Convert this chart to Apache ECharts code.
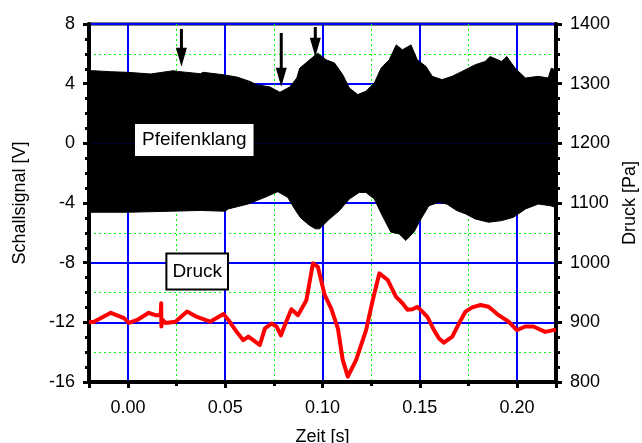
<!DOCTYPE html>
<html>
<head>
<meta charset="utf-8">
<script src="https://cdn.jsdelivr.net/npm/echarts@6/dist/echarts.min.js"></script>
<style>
  html, body { margin: 0; padding: 0; background: #fff; }
  #chart { width: 642px; height: 443px; }
</style>
</head>
<body>
<div id="chart"></div>
<script>
// Schallsignal envelope (time [s], V)
const signalUpper = [
    [-0.02, 4.85], [-0.018, 4.87], [-0.0088, 4.8], [0.0, 4.76], [0.0116, 4.65], [0.0234, 4.87],
    [0.0254, 4.82], [0.0372, 4.67], [0.0387, 4.76], [0.0489, 4.6], [0.0561, 4.44], [0.0627, 4.15],
    [0.0662, 3.93], [0.073, 3.78], [0.0781, 3.42], [0.0832, 3.78], [0.0868, 4.38], [0.0883, 5.04],
    [0.0934, 5.6], [0.0975, 6.04], [0.1019, 5.6], [0.1062, 5.38], [0.1104, 4.6], [0.1138, 3.71],
    [0.1181, 3.27], [0.1223, 3.49], [0.1266, 4.04], [0.1301, 5.04], [0.1343, 5.6], [0.1379, 6.6],
    [0.1411, 6.27], [0.1455, 6.6], [0.1487, 5.6], [0.1532, 5.15], [0.1564, 4.49], [0.1614, 4.27],
    [0.1666, 4.49], [0.1717, 4.82], [0.1785, 5.27], [0.1836, 5.49], [0.1861, 5.82], [0.1921, 5.49],
    [0.1947, 5.82], [0.199, 5.04], [0.2043, 4.38], [0.2109, 4.49], [0.216, 4.38], [0.2176, 5.04],
    [0.22, 4.9]
];
const signalLower = [
    [-0.02, -4.62], [0.0, -4.62], [0.0218, -4.55], [0.0372, -4.5], [0.05, -4.55], [0.0515, -4.4],
    [0.0617, -4.07], [0.0704, -3.62], [0.077, -3.24], [0.0821, -3.62], [0.0862, -4.51], [0.0888, -5.0],
    [0.0934, -5.51], [0.0964, -5.73], [0.0985, -5.73], [0.1036, -5.07], [0.1087, -4.51], [0.1138, -3.73],
    [0.1189, -3.29], [0.1223, -3.29], [0.1266, -3.73], [0.1307, -4.84], [0.1351, -5.95], [0.1394, -6.07],
    [0.1428, -6.51], [0.147, -5.95], [0.1506, -5.07], [0.1547, -4.18], [0.1598, -3.96], [0.1639, -4.07],
    [0.169, -4.51], [0.1736, -4.73], [0.1785, -5.07], [0.1854, -5.29], [0.1921, -5.18], [0.1981, -4.96],
    [0.2043, -4.4], [0.2109, -4.07], [0.217, -4.18], [0.22, -4.3]
];

// Druck (time [s], Pa)
const pressure = [
    [-0.02, 900], [-0.0174, 901], [-0.0088, 916], [-0.002, 907], [0.0005, 899], [0.0048, 904],
    [0.0107, 916], [0.0142, 912], [0.0168, 912], [0.0171, 932], [0.0172, 893], [0.0176, 905],
    [0.0193, 899], [0.0244, 901], [0.0304, 918], [0.0355, 909], [0.0423, 901], [0.0491, 914],
    [0.0516, 904], [0.0559, 884], [0.0593, 870], [0.0619, 876], [0.0644, 870], [0.0678, 862],
    [0.0704, 890], [0.0738, 898], [0.0764, 893], [0.0786, 878], [0.0806, 895], [0.084, 922],
    [0.0874, 912], [0.0917, 937], [0.0951, 999], [0.0976, 993], [0.1011, 946], [0.1045, 923],
    [0.1079, 890], [0.1104, 837], [0.113, 809], [0.1173, 837], [0.1224, 887], [0.1258, 937],
    [0.1292, 982], [0.1335, 971], [0.1377, 943], [0.1411, 932], [0.1437, 921], [0.1462, 922],
    [0.1488, 926], [0.1513, 918], [0.1539, 909], [0.1573, 887], [0.1599, 873], [0.1624, 866],
    [0.1667, 876], [0.1701, 898], [0.1735, 918], [0.1769, 925], [0.1812, 929], [0.1854, 926],
    [0.1905, 912], [0.1957, 901], [0.1999, 887], [0.2042, 893], [0.2084, 893], [0.2144, 884],
    [0.2186, 887], [0.22, 887]
];

// arrows: time, start value, tip value (V)
const arrows = [
    [0.0275, 7.67, 5.13],
    [0.0788, 7.4, 3.8],
    [0.0963, 7.8, 5.8]
];

// text boxes: label, time, value (V)
const notes = [
    ['Pfeifenklang', 0.0341, 0.23],
    ['Druck', 0.0356, -8.59]
];

const FONT = "'Liberation Sans', Arial, sans-serif";

const chart = echarts.init(document.getElementById('chart'));

function tickParts() {
    return {
        axisLine: { show: true, onZero: false, lineStyle: { color: '#000', width: 4 } },
        axisTick: { show: true, inside: false, length: 6, lineStyle: { color: '#000', width: 3 } },
        minorTick: { show: true, splitNumber: 4, length: 4, lineStyle: { color: '#000', width: 3 } }
    };
}

function renderArrow(params, api) {
    const top = api.coord([api.value(0), api.value(1)]);
    const tip = api.coord([api.value(0), api.value(2)]);
    const head = 19;
    const half = 5.5;
    return {
        type: 'group',
        children: [
            {
                type: 'line',
                shape: { x1: top[0], y1: top[1], x2: tip[0], y2: tip[1] - head + 2 },
                style: { stroke: '#000', lineWidth: 3 }
            },
            {
                type: 'polygon',
                shape: { points: [[tip[0] - half, tip[1] - head], [tip[0] + half, tip[1] - head], [tip[0], tip[1]]] },
                style: { fill: '#000' }
            }
        ]
    };
}

const noteStyles = [
    { backgroundColor: '#fff', padding: [7, 7, 6, 7] },
    { backgroundColor: '#fff', borderColor: '#000', borderWidth: 2, padding: [8, 5, 7, 5] }
];

const option = {
    animation: false,
    textStyle: { fontFamily: FONT },
    grid: {
        left: 89, right: 86, top: 24, bottom: 61,
        outerBoundsMode: 'none', containLabel: false,
        show: true, borderColor: '#000', borderWidth: 3, backgroundColor: '#fff'
    },
    xAxis: {
        type: 'value', min: -0.02, max: 0.22, splitNumber: 5, z: 1,
        ...tickParts(),
        minorTick: { show: true, splitNumber: 2, length: 4, lineStyle: { color: '#000', width: 3 } },
        axisLabel: {
            color: '#000', fontSize: 18, fontFamily: FONT, margin: 17,
            showMinLabel: false, showMaxLabel: false,
            formatter: v => v.toFixed(2)
        },
        splitLine: { show: true, lineStyle: { color: '#0000ff', width: 2 } },
        minorSplitLine: { show: true, lineStyle: { color: '#00ff00', width: 1, type: [2, 3] } },
        name: 'Zeit [s]', nameLocation: 'middle', nameGap: 46,
        nameTextStyle: { color: '#000', fontSize: 18, fontFamily: FONT }
    },
    yAxis: [
        {
            type: 'value', position: 'left', min: -16, max: 8, interval: 4, z: 1,
            ...tickParts(),
            axisLabel: { color: '#000', fontSize: 18, fontFamily: FONT, margin: 14, formatter: v => String(v) },
            splitLine: { show: true, lineStyle: { color: '#0000ff', width: 2 } },
            name: 'Schallsignal [V]', nameLocation: 'middle', nameGap: 60, nameRotate: 90,
            nameTextStyle: { color: '#000', fontSize: 18, fontFamily: FONT }
        },
        {
            type: 'value', position: 'right', min: 800, max: 1400, interval: 100, z: 1,
            ...tickParts(),
            axisLabel: { color: '#000', fontSize: 18, fontFamily: FONT, margin: 14, formatter: v => String(v) },
            splitLine: { show: false },
            name: 'Druck [Pa]', nameLocation: 'middle', nameGap: 57, nameRotate: 90,
            nameTextStyle: { color: '#000', fontSize: 18, fontFamily: FONT }
        },
        {
            // only for the dotted green half-step grid
            type: 'value', min: -16, max: 8, interval: 2, z: 0,
            axisLine: { show: false, onZero: false }, axisTick: { show: false }, axisLabel: { show: false },
            splitLine: { show: true, lineStyle: { color: '#00ff00', width: 1, type: [2, 3] } }
        }
    ],
    series: [
        {
            type: 'line', data: signalUpper, yAxisIndex: 0, symbol: 'none', z: 2,
            lineStyle: { color: '#000', width: 1 },
            areaStyle: { color: '#000', opacity: 1, origin: 0 }
        },
        {
            type: 'line', data: signalLower, yAxisIndex: 0, symbol: 'none', z: 2,
            lineStyle: { color: '#000', width: 1 },
            areaStyle: { color: '#000', opacity: 1, origin: 0 }
        },
        {
            type: 'line', data: pressure, yAxisIndex: 1, symbol: 'none', z: 3,
            lineStyle: { color: '#ff0000', width: 4, join: 'round' }
        },
        {
            type: 'custom', data: arrows, yAxisIndex: 0, z: 4,
            encode: { x: 0, y: [1, 2] },
            renderItem: renderArrow
        },
        {
            type: 'scatter', yAxisIndex: 0, z: 5, symbolSize: 1,
            itemStyle: { color: 'rgba(0,0,0,0)', opacity: 1 },
            data: notes.map((n, i) => ({
                name: n[0], value: [n[1], n[2]],
                label: noteStyles[i]
            })),
            label: {
                show: true, position: 'inside', formatter: '{b}',
                color: '#000', fontSize: 19, fontFamily: FONT
            }
        }
    ]
};

chart.setOption(option);
</script>
</body>
</html>
